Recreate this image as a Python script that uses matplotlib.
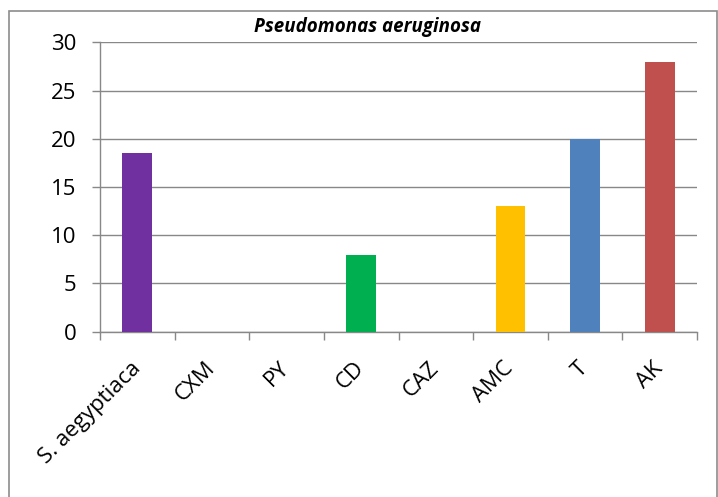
import numpy as np
import matplotlib
matplotlib.use('Agg')
import matplotlib.pyplot as plt
from matplotlib.patches import Rectangle

# data
categories = ['S. aegyptiaca', 'CXM', 'PY', 'CD', 'CAZ', 'AMC', 'T', 'AK']
values     = [18.5, 0, 0, 8, 0, 13, 20, 28]
bar_colors = ['#7030A0', '#00B050', '#00B050', '#00B050', '#FFC000',
              '#FFC000', '#4F81BD', '#C0504D']
y_ticks    = [0, 5, 10, 15, 20, 25, 30]
title      = 'Pseudomonas aeruginosa'

GRID = '#888888'
plt.rcParams['font.family'] = ['Open Sans', 'DejaVu Sans']

W, H = 718, 497
fig = plt.figure(figsize=(W / 100, H / 100), dpi=100)
ax = fig.add_axes([100 / W, 1 - 331.7 / H, 597 / W, (331.7 - 42.3) / H])

x = np.arange(len(categories))
ax.bar(x, values, width=0.4, color=bar_colors, zorder=3)

ax.set_xlim(-0.5, len(categories) - 0.5)
ax.set_ylim(0, 30)
ax.set_yticks(y_ticks)
ax.yaxis.grid(True, color=GRID, linewidth=1.0)
ax.set_axisbelow(True)

# category boundary ticks (Excel style), labels centred under bars
ax.set_xticks(x)
ax.set_xticks(np.arange(-0.5, len(categories)), minor=True)
ax.set_xticklabels(categories, rotation=45, ha='right', va='center',
                   rotation_mode='anchor', fontsize=16)
ax.tick_params(axis='x', which='major', length=0, pad=24)
ax.tick_params(axis='x', which='minor', length=6, width=1.0, color=GRID)
ax.tick_params(axis='y', length=6, width=1.0, color=GRID, labelsize=16, pad=11)

for s in ['top', 'right']:
    ax.spines[s].set_visible(False)
for s in ['left', 'bottom']:
    ax.spines[s].set_color(GRID)
    ax.spines[s].set_linewidth(1.0)

fig.text(367 / W, 1 - 27 / H, title, ha='center', va='center',
         fontsize=13.5, fontweight='bold', fontstyle='italic')

# outer chart frame
fig.patches.append(Rectangle((9 / W, -0.05), 708 / W, 1.05 - 10.7 / H,
                             transform=fig.transFigure, fill=False,
                             edgecolor='#8C8C8C', linewidth=1.2, clip_on=False))

plt.savefig('out.png', dpi=100)
plt.close()
